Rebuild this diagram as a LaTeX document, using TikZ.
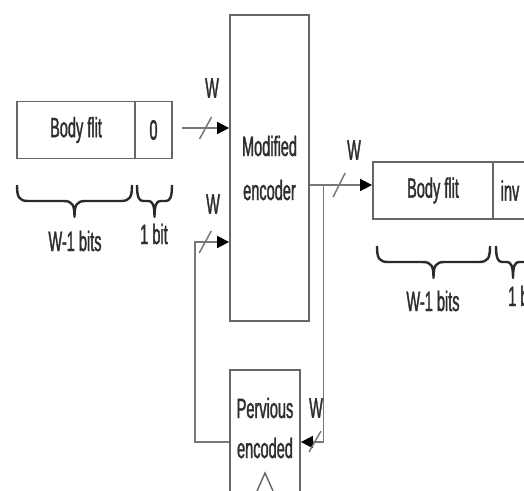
\documentclass[tikz,border=0pt]{standalone}
\usepackage{fontspec}
\newfontfamily\nf[FakeStretch=0.52,FakeBold=1.2]{Liberation Sans}
\usetikzlibrary{arrows.meta,calc}
\definecolor{boxgray}{HTML}{666666}
\definecolor{linegray}{HTML}{777777}
\definecolor{txtgray}{HTML}{2E2E2E}
\definecolor{bracegray}{HTML}{2A2A2A}
% #1 left x, #2 right x, #3 top y, #4 curl radius
\newcommand\mybrace[4]{%
  \draw[brcs] (#1,#3) .. controls (#1,{#3+12}) and ({#1+2},{#3+16}) .. ({#1+#4},{#3+16})
    -- ({(#1+#2)/2-#4},{#3+16}) .. controls ({(#1+#2)/2-2},{#3+16}) and ({(#1+#2)/2},{#3+20}) .. ({(#1+#2)/2},{#3+32})
    .. controls ({(#1+#2)/2},{#3+20}) and ({(#1+#2)/2+2},{#3+16}) .. ({(#1+#2)/2+#4},{#3+16})
    -- ({#2-#4},{#3+16}) .. controls ({#2-2},{#3+16}) and (#2,{#3+12}) .. (#2,#3);}
\begin{document}
\begin{tikzpicture}[x=1pt,y=-1pt,
  box/.style={draw=boxgray, line width=1.8pt, inner sep=0pt, fill=white},
  txt/.style={font=\nf\fontsize{28}{44}\selectfont, text=txtgray, align=center, inner sep=0pt},
  conn/.style={draw=linegray, line width=1.7pt},
  arr/.style={conn, -{Triangle[length=12pt,width=12pt,color=black]}},
  slash/.style={draw=linegray, line width=1.5pt},
  brcs/.style={draw=bracegray, line width=2.4pt, line join=round}
]
\useasboundingbox (0,0) rectangle (524,490);
\clip (0,0) rectangle (524,490);

% left flit
\node[box, txt, minimum width=118pt, minimum height=57pt] (bodyL) at (76,130) {Body flit};
\node[box, txt, minimum width=37pt, minimum height=57pt] (zeroL) at (153.5,130) {0};
\mybrace{17}{132}{185}{11}
\mybrace{137}{172}{185}{6}
\node[txt] (wbL) at (75,241) {W-1 bits};
\node[txt] (obL) at (154,234) {1 bit};

% encoder
\node[box, txt, minimum width=79pt, minimum height=306pt] (enc) at (269.5,168) {Modified\\encoder};

% previous encoded
\node[box, minimum width=70pt, minimum height=144pt] (prev) at (265,442) {};
\node[txt, font=\nf\fontsize{28}{40}\selectfont] (prevtxt) at (265,428) {Pervious\\encoded};
\draw[draw=boxgray, line width=1.4pt] (257,491) -- (265,473) -- (273,491);

% right flit
\node[box, txt, minimum width=120pt, minimum height=57pt] (bodyR) at (433,190.5) {Body flit};
\node[box, txt, minimum width=34pt, minimum height=57pt] (invR) at (510,190.5) {inv};
\mybrace{377}{490}{246}{11}
\mybrace{496}{530}{246}{6}
\node[txt] (wbR) at (433,301) {W-1 bits};
\node[txt] (obR) at (522,296) {1 bit};

% input arrow 1
\coordinate (a1s) at (182,128);
\draw[arr] (a1s) -- (a1s -| enc.west) coordinate[pos=0.5] (s1);
\draw[slash] (s1) ++(-6,11) -- ++(12,-22);
\node[txt] (w1) at (212,88) {W};

% feedback arrow 2
\coordinate (fb) at (195,242);
\draw[arr] (prev.west) -| (fb) -- (fb -| enc.west) coordinate[pos=0.3] (s2);
\draw[slash] (s2) ++(-6,11) -- ++(12,-22);
\node[txt] (w2) at (213,204) {W};

% output arrow
\coordinate (os) at (enc.east |- 0,185);
\draw[arr] (os) -- (os -| bodyR.west) coordinate[pos=0.47] (s3);
\draw[slash] (s3) ++(-6,12) -- ++(12,-24);
\node[txt] (w3) at (354,150) {W};

% tap to previous encoded
\coordinate (tap) at (323.5,185);
\draw[arr] (tap) |- (prev.east) coordinate[pos=0.8] (s4);
\draw[slash] (315,442) ++(-6,10) -- ++(12,-21);
\node[txt] (w4) at (316,408) {W};
\end{tikzpicture}
\end{document}
